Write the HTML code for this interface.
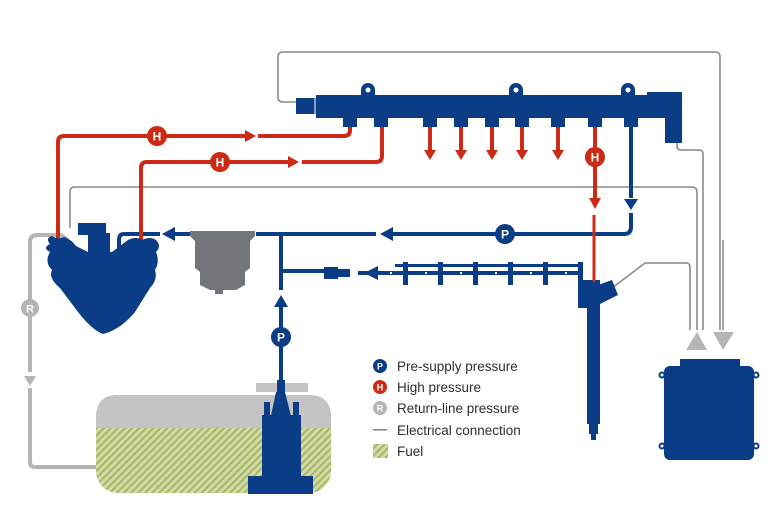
<!DOCTYPE html>
<html><head><meta charset="utf-8"><style>
html,body{margin:0;padding:0;background:#fff;}
svg{display:block;}
text{font-family:"Liberation Sans",sans-serif;}
</style></head><body>
<svg width="774" height="516" viewBox="0 0 774 516" xmlns="http://www.w3.org/2000/svg">
<defs>
<pattern id="hatch" width="5" height="5" patternUnits="userSpaceOnUse" patternTransform="rotate(45)">
<rect width="5" height="5" fill="#d6dca8"/><rect width="2.2" height="5" fill="#a9b86a"/>
</pattern>
</defs>
<g fill="none" stroke="#8a8a8a" stroke-width="1.6">
<path d="M296 102 H283 Q278 102 278 97 V57 Q278 52 283 52 H715 Q720 52 720 57 V330"/>
<path d="M677 143 V146 Q677 150 681 150 H699 Q703 150 703 154 V330"/>
<path d="M70 228 V192 Q70 187 75 187 H692 Q697 187 697 192 V330"/>
<path d="M612 288 L645 263 H686 Q690 263 690 267 V330"/>
<path d="M723 240 V330"/>
</g>
<polygon points="686,350 697,332 707,350" fill="#b5b5b5"/>
<polygon points="713,332 734,332 723,350" fill="#b5b5b5"/>
<g fill="none" stroke="#b5b5b5" stroke-width="4">
<path d="M68 250 Q72 240 60 235 H37 Q30 235 30 242 V372"/>
<path d="M30 388 V462 Q30 467 35 467 H96"/>
</g>
<polygon points="24,376 36,376 30,386" fill="#b5b5b5"/>
<circle cx="30" cy="308" r="9" fill="#b5b5b5"/><text x="30" y="312.5" font-size="11" font-weight="bold" fill="#fff" text-anchor="middle">R</text>
<rect x="96" y="395" width="235" height="98" rx="22" fill="url(#hatch)"/>
<path d="M118 395 H309 Q331 395 331 417 V428 H96 V417 Q96 395 118 395 Z" fill="#c4c4c4"/>
<rect x="256" y="383" width="52" height="9" fill="#c4c4c4"/>
<g fill="#0b3d86">
<rect x="248" y="476" width="65" height="18"/>
<rect x="262" y="415" width="39" height="62"/>
<rect x="264" y="402" width="6" height="15"/><rect x="293" y="402" width="6" height="15"/>
<path d="M276 392 L285 392 L292 420 L270 420 Z"/>
<rect x="277" y="380" width="8" height="14"/>
</g>
<g fill="none" stroke="#0b3d86" stroke-width="4">
<path d="M281 380 V303"/>
<path d="M281 290 V234"/>
<path d="M281 271 H330"/>
<path d="M631 213 V227 Q631 234 624 234 H390"/>
<path d="M376 234 H256"/>
<path d="M190 234 H175"/>
<path d="M160 234 H124 Q119 234 119 240 V250"/>
<path d="M631 127 V198"/>
<path d="M358 273 H372 M378 273 H580"/>
</g>
<polygon points="274,307 288,307 281,295" fill="#0b3d86"/>
<polygon points="393,227 393,241 380,234" fill="#0b3d86"/>
<polygon points="175,227 175,241 162,234" fill="#0b3d86"/>
<polygon points="624,199 638,199 631,210" fill="#0b3d86"/>
<polygon points="378,266 378,280 364,273" fill="#0b3d86"/>
<g stroke="#fff" stroke-width="2"><path d="M390 273 H392 M425 273 H427 M460 273 H462 M495 273 H497 M530 273 H532 M565 273 H567"/></g>
<g fill="#0b3d86">
<rect x="403" y="262" width="5" height="23"/><rect x="438" y="262" width="5" height="23"/><rect x="473" y="262" width="5" height="23"/><rect x="508" y="262" width="5" height="23"/><rect x="543" y="262" width="5" height="23"/>
<rect x="395" y="264" width="185" height="3"/>
<rect x="578" y="262" width="5" height="20"/>
<rect x="324" y="267" width="14" height="12"/><rect x="338" y="269" width="12" height="8"/>
<rect x="578" y="280" width="22" height="28"/>
<rect x="587" y="300" width="13" height="124"/>
<rect x="589" y="422" width="9" height="12"/>
<rect x="591" y="432" width="5" height="8"/>
<path d="M598 285 L612 280 L618 295 L598 305 Z"/>
</g>
<path d="M594 215 V282" stroke="#cc2a14" stroke-width="3" fill="none"/>
<circle cx="281" cy="337" r="10" fill="#0b3d86"/><text x="281" y="341.5" font-size="12" font-weight="bold" fill="#fff" text-anchor="middle">P</text>
<circle cx="505" cy="234" r="10" fill="#0b3d86"/><text x="505" y="238.5" font-size="12" font-weight="bold" fill="#fff" text-anchor="middle">P</text>
<path d="M190 231 H255 V236 L250 241 V268 L245 272 V285 L236 290 H210 L200 285 V272 L195 268 V241 L190 236 Z" fill="#727579"/>
<rect x="215" y="288" width="8" height="6" fill="#727579"/>
<g fill="none" stroke="#cc2a14" stroke-width="4">
<path d="M350 127 V130 Q350 136 344 136 H258"/>
<path d="M251 136 H64 Q58 136 58 142 V240"/>
<path d="M382 127 V156 Q382 162 376 162 H302"/>
<path d="M294 162 H147 Q141 162 141 168 V240"/>
<path d="M595 127 V198"/>
<path d="M430 127 V150 M461 127 V150 M492 127 V150 M522 127 V150 M558 127 V150"/>
</g>
<polygon points="245,130 245,142 256,136" fill="#cc2a14"/>
<polygon points="288,156 288,168 299,162" fill="#cc2a14"/>
<g fill="#cc2a14">
<polygon points="424,150 436,150 430,160"/><polygon points="455,150 467,150 461,160"/><polygon points="486,150 498,150 492,160"/><polygon points="516,150 528,150 522,160"/><polygon points="552,150 564,150 558,160"/><polygon points="589,198 601,198 595,209"/>
</g>
<circle cx="157" cy="136" r="10" fill="#cc2a14"/><text x="157" y="140.5" font-size="12" font-weight="bold" fill="#fff" text-anchor="middle">H</text>
<circle cx="220" cy="162" r="10" fill="#cc2a14"/><text x="220" y="166.5" font-size="12" font-weight="bold" fill="#fff" text-anchor="middle">H</text>
<circle cx="595" cy="157" r="10" fill="#cc2a14"/><text x="595" y="161.5" font-size="12" font-weight="bold" fill="#fff" text-anchor="middle">H</text>
<g fill="#0b3d86">
<rect x="322" y="95" width="325" height="23"/>
<rect x="296" y="98" width="22" height="16"/><rect x="316" y="95" width="6" height="23"/>
<rect x="647" y="92" width="35" height="26"/><rect x="665" y="116" width="17" height="27"/>
<circle cx="368" cy="90" r="7"/><rect x="361" y="90" width="14" height="6"/>
<circle cx="516" cy="90" r="7"/><rect x="509" y="90" width="14" height="6"/>
<circle cx="628" cy="90" r="7"/><rect x="621" y="90" width="14" height="6"/>
<rect x="343" y="116" width="14" height="11"/><rect x="374" y="116" width="14" height="11"/>
<rect x="423" y="116" width="14" height="11"/><rect x="454" y="116" width="14" height="11"/><rect x="485" y="116" width="14" height="11"/><rect x="515" y="116" width="14" height="11"/><rect x="551" y="116" width="14" height="11"/><rect x="588" y="116" width="14" height="11"/><rect x="624" y="116" width="14" height="11"/>
</g>
<g fill="#fff"><circle cx="368" cy="90" r="2.5"/><circle cx="516" cy="90" r="2.5"/><circle cx="628" cy="90" r="2.5"/></g>
<path d="M315 96 V117" stroke="#fff" stroke-width="1"/>
<g fill="#0b3d86">
<rect x="78" y="223" width="28" height="12"/>
<rect x="88" y="233" width="22" height="20"/>
<path d="M50 244 Q45 238 52 236 Q58 240 64 237 Q72 240 76 246 L88 252 L112 252 L128 240 Q136 236 142 240 Q150 236 156 240 Q162 246 156 252 Q160 262 155 270 Q158 280 150 288 L135 312 Q120 330 103 334 Q92 330 78 312 L60 288 Q48 278 52 270 Q44 262 50 252 Q42 248 50 244 Z"/>
</g>
<circle cx="380" cy="366" r="7" fill="#0b3d86"/><text x="380" y="369.5" font-size="9" font-weight="bold" fill="#fff" text-anchor="middle">P</text>
<circle cx="380" cy="387" r="7" fill="#cc2a14"/><text x="380" y="390.5" font-size="9" font-weight="bold" fill="#fff" text-anchor="middle">H</text>
<circle cx="380" cy="408" r="7" fill="#b5b5b5"/><text x="380" y="411.5" font-size="9" font-weight="bold" fill="#fff" text-anchor="middle">R</text>
<rect x="373" y="429" width="14" height="1.6" fill="#8a8a8a"/>
<rect x="373" y="444" width="15" height="14" fill="url(#hatch)"/>
<g font-size="13.5" fill="#2e2e38">
<text x="397" y="371">Pre-supply pressure</text>
<text x="397" y="392">High pressure</text>
<text x="397" y="413">Return-line pressure</text>
<text x="397" y="435">Electrical connection</text>
<text x="397" y="456">Fuel</text>
</g>
<g fill="#0b3d86">
<rect x="680" y="359" width="60" height="10"/>
<rect x="664" y="366" width="90" height="94" rx="6"/>
<circle cx="662" cy="375" r="3.5"/><circle cx="756" cy="375" r="3.5"/><circle cx="662" cy="446" r="3.5"/><circle cx="756" cy="446" r="3.5"/>
</g>
<g fill="#fff"><circle cx="662" cy="375" r="1.5"/><circle cx="756" cy="375" r="1.5"/><circle cx="662" cy="446" r="1.5"/><circle cx="756" cy="446" r="1.5"/></g>
</svg>
</body></html>
